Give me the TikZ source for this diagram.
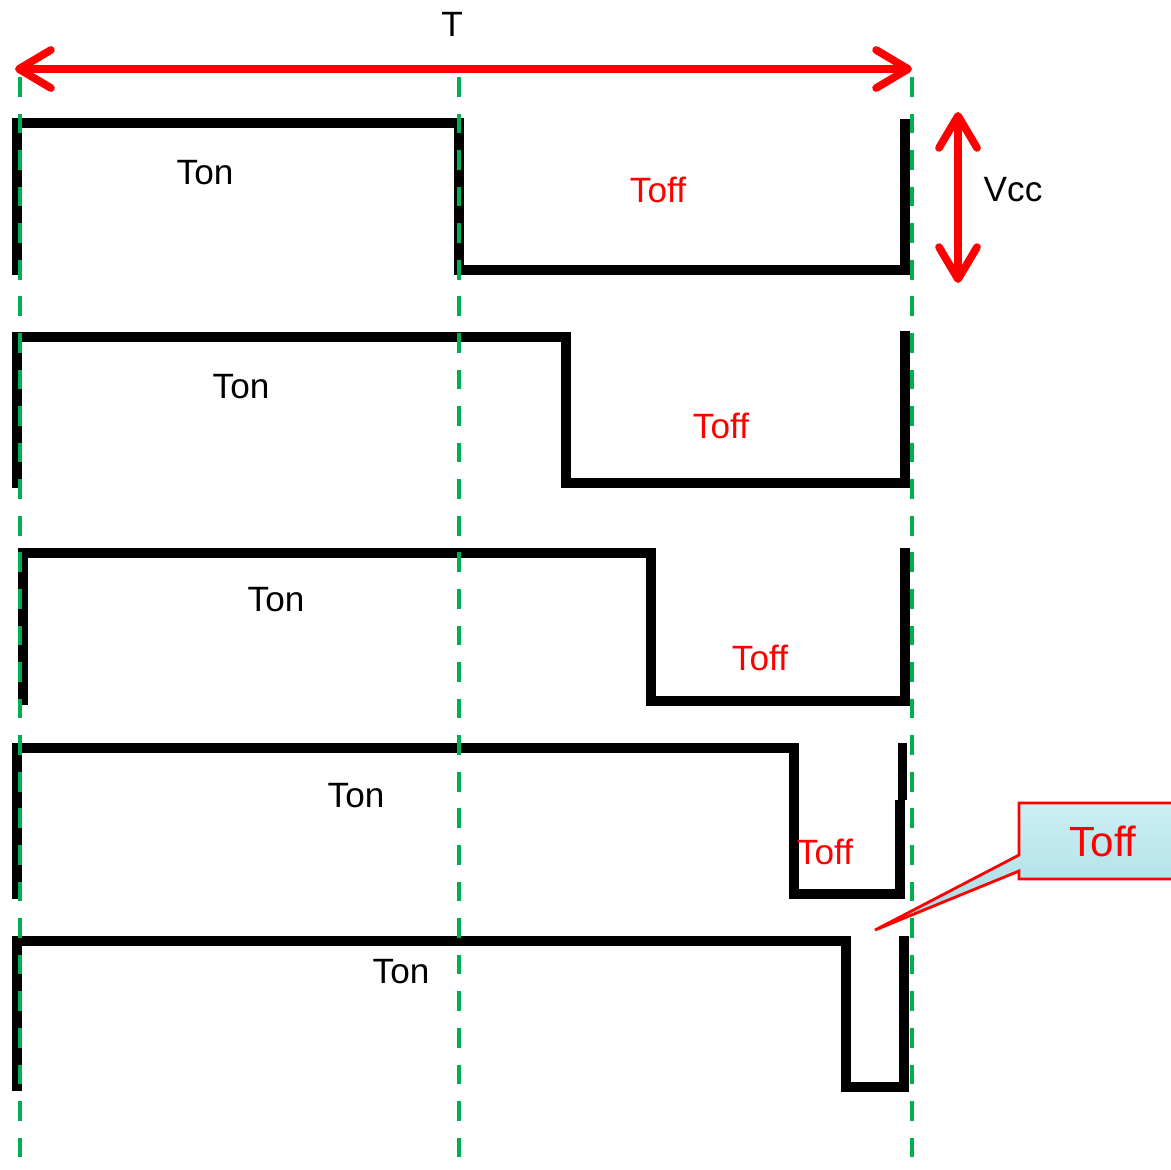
\documentclass[tikz,border=0pt]{standalone}
\usepackage{fontspec}
\setmainfont{Liberation Sans}
\usetikzlibrary{arrows.meta,shapes.callouts}
\definecolor{guidegreen}{RGB}{0,176,80}
\definecolor{callouttop}{RGB}{204,240,244}
\definecolor{calloutbot}{RGB}{165,218,226}

\begin{document}
\begin{tikzpicture}[x=0.01cm,y=-0.01cm,
wave/.style={line width=2.7pt,line join=miter},
guide/.style={draw=guidegreen,line width=1.3pt,dash pattern=on 5.6pt off 4.8pt},
span/.style={draw=red,line width=2.2pt,{Straight Barb[length=3.2mm,width=3.8mm,round]}-{Straight Barb[length=3.2mm,width=3.8mm,round]}},
onlbl/.style={font=\fontsize{10pt}{12pt}\selectfont,text=black,inner sep=0pt},
offlbl/.style={font=\fontsize{10pt}{12pt}\selectfont,text=red,inner sep=0pt},
note/.style={rectangle callout,draw=red,line width=0.8pt,top color=callouttop,bottom color=calloutbot,text=red,font=\fontsize{12pt}{14pt}\selectfont,minimum width=1.68cm,minimum height=0.76cm,callout pointer width=0.16cm}
]
\useasboundingbox (0,0) rectangle (1171,1169);

% period and amplitude
\coordinate (tl) at (15,69);
\coordinate (tr) at (912,69);
\draw[span] (tl) -- (tr);
\node[onlbl] (tlbl) at (452,24) {T};
\coordinate (vt) at (958,112);
\coordinate (vb) at (958,283);
\draw[span] (vt) -- (vb);
\node[onlbl] (vlbl) at (1013,190) {Vcc};

% waveforms
\draw[wave] (17,275) -- (17,123) -- (459,123) -- (459,270) -- (905,270) -- (905,119);
\draw[wave] (17,488) -- (17,337) -- (566,337) -- (566,483) -- (905,483) -- (905,331);
\draw[wave] (23,705) -- (23,553) -- (651,553) -- (651,701) -- (905,701) -- (905,548);
\draw[wave] (17,899) -- (17,748) -- (794,748) -- (794,894) -- (900,894) -- (900,800);
\draw[wave] (902.5,800) -- (902.5,743);
\draw[wave] (17,1091) -- (17,941) -- (846,941) -- (846,1087) -- (904,1087) -- (904,936);

% labels
\node[onlbl] (on1) at (205,173) {Ton};
\node[offlbl] (off1) at (658,190) {Toff};
\node[onlbl] (on2) at (241,387) {Ton};
\node[offlbl] (off2) at (721,426) {Toff};
\node[onlbl] (on3) at (276,600) {Ton};
\node[offlbl] (off3) at (760,658) {Toff};
\node[onlbl] (on4) at (356,796) {Ton};
\node[offlbl] (off4) at (825,852) {Toff};
\node[onlbl] (on5) at (401,972) {Ton};

% callout
\coordinate (tip) at (875,930);
\node[note,callout absolute pointer={(tip)}] (toffnote) at (1103,841) {Toff};

% guides
\foreach \gx in {20,459,912}
  \draw[guide] (\gx,77) -- (\gx,1169);
\end{tikzpicture}
\end{document}
